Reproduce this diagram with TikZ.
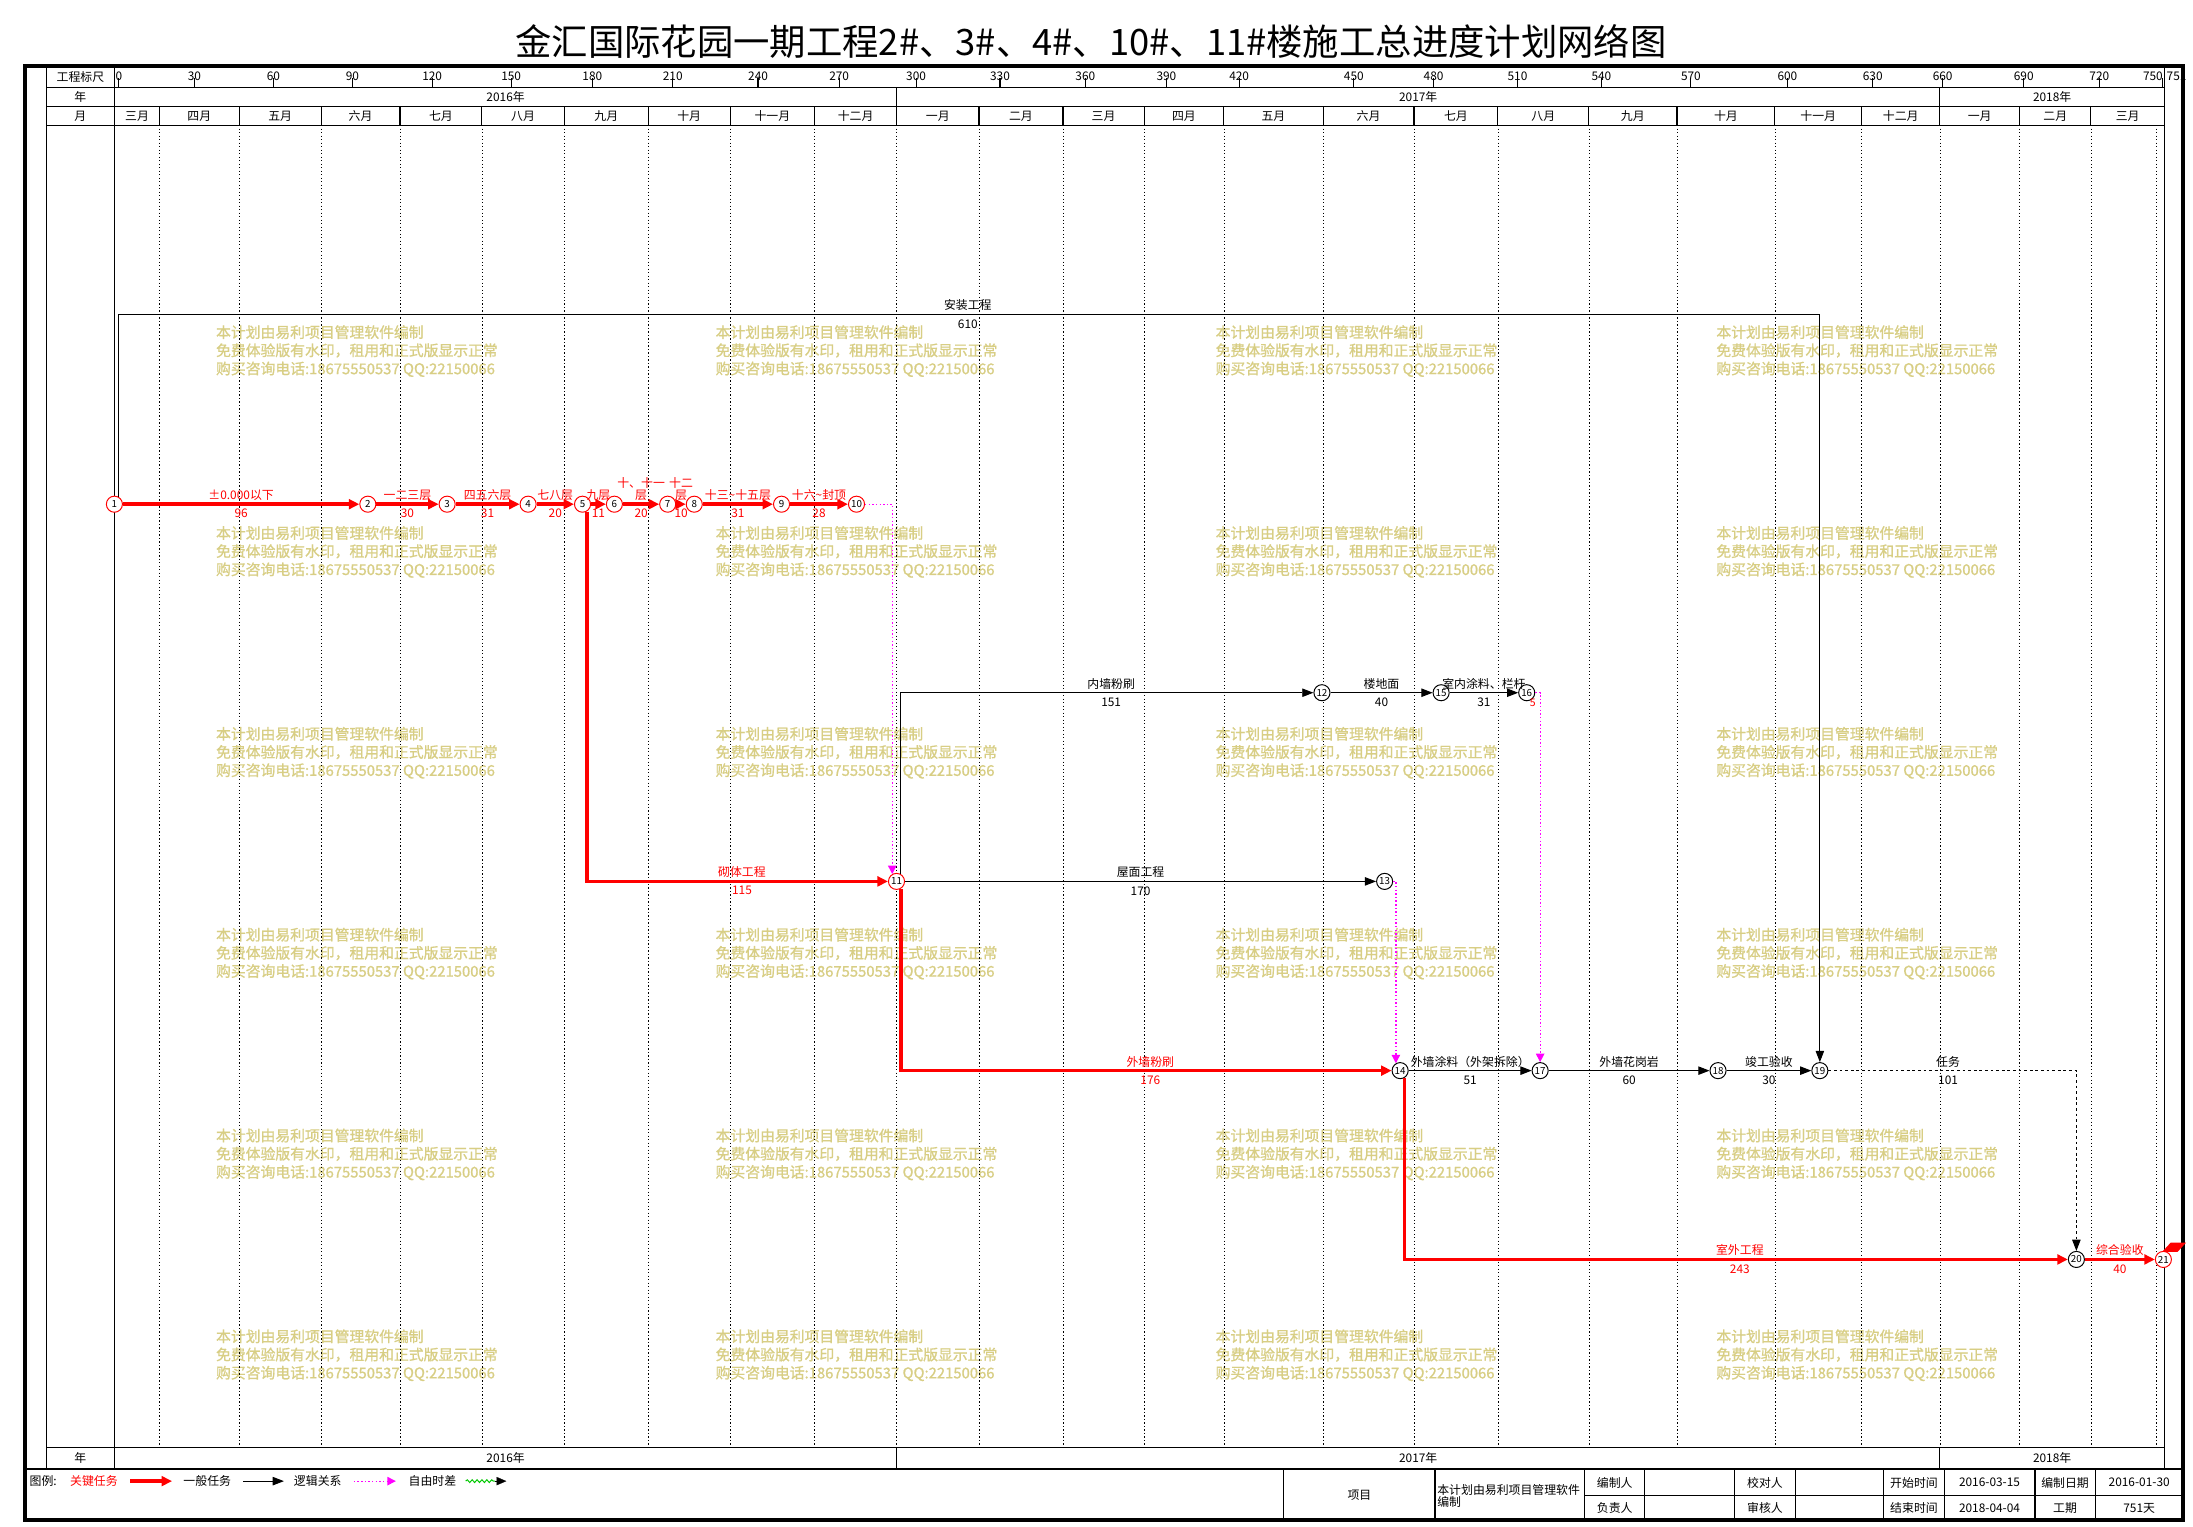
\documentclass[tikz,border=0pt]{standalone}
\usepackage{fontspec}
\setmainfont{Noto Sans CJK SC}
\newfontfamily\wmfont[FakeBold=1]{Noto Sans CJK SC}
\usetikzlibrary{arrows.meta,decorations.pathmorphing,calc}
\definecolor{wm}{RGB}{216,206,132}
\definecolor{mag}{RGB}{255,0,255}
\definecolor{lgreen}{RGB}{0,200,0}
\begin{document}
\begin{tikzpicture}[x=1pt,y=-1pt,
  every node/.style={inner sep=0pt,font=\fontsize{8.5}{10}\selectfont},
  ev/.style={circle,draw=black,line width=0.7pt,fill=white,minimum size=11.5pt,inner sep=0pt,font=\fontsize{7}{8}\selectfont},
  evc/.style={ev,draw=red},
  critline/.style={draw=red,line width=2.6pt,-{Triangle[length=7.5pt,width=7pt]}},
  genline/.style={draw=black,line width=0.7pt,-{Triangle[length=8pt,width=6pt]}},
  ffline/.style={draw=mag,line width=0.9pt,dash pattern=on 1pt off 1.6pt,-{Triangle[length=6pt,width=6pt,fill=mag]}},
  dashline/.style={draw=black,line width=0.7pt,dash pattern=on 2pt off 2pt,-{Triangle[length=8pt,width=6pt]}},
  gridline/.style={line width=0.4pt,dash pattern=on 0.9pt off 1.6pt},
  thin/.style={line width=0.8pt},
  wmk/.style={text=wm,anchor=west,align=left,font=\wmfont\fontsize{10.6}{13}\selectfont},
  rl/.style={text=red},
]
\useasboundingbox (0,0) rectangle (1568,1091.8);
\fill[white] (0,0) rectangle (1568,1091.8);

% title
\node (title) at (780,30) {\fontsize{26}{28}\selectfont 金汇国际花园一期工程2\#、3\#、4\#、10\#、11\#楼施工总进度计划网络图};

% watermarks
\foreach \cx in {154.3,511.5,869,1227}{
  \foreach \ry in {238,381.6,525.2,668.8,812.4,956}{
    \node[wmk] at (\cx,\ry+13) {本计划由易利项目管理软件编制\\免费体验版有水印，租用和正式版显示正常\\购买咨询电话:18675550537 QQ:22150066};
  }
}

% grid lines
\foreach \x in {114,171,229.6,286,344.5,403.5,463.5,522,582.5,641,700,760,818,875,946,1011,1071,1136,1199,1269,1331,1387,1444,1495,1542}
  \draw[gridline] (\x,89.5) -- (\x,1035.2);

% header lines
\draw[thin] (33,47.4) -- (33,1050.3);
\draw[thin] (82,47.4) -- (82,1050.3);
\draw[thin] (1547.5,47.4) -- (1547.5,1050.3);
\foreach \y in {62.4,76,89.5,1035.2} \draw[thin] (33,\y) -- (1547.5,\y);
\draw[thin] (641,62.4) -- (641,76);
\draw[thin] (1387,62.4) -- (1387,76);
\draw[thin] (641,1035.2) -- (641,1050.3);
\draw[thin] (1387,1035.2) -- (1387,1050.3);

\node at (57.5,55) {工程标尺};
\node at (57.5,69.2) {年};
\node at (57.5,82.8) {月};
\node at (57.5,1042.7) {年};
\node at (361.5,69.2) {2016年};
\node at (1014,69.2) {2017年};
\node at (1467.3,69.2) {2018年};
\node at (361.5,1042.7) {2016年};
\node at (1014,1042.7) {2017年};
\node at (1467.3,1042.7) {2018年};

% ruler
\foreach \x/\t in {85/0,139/30,195.5/60,252/90,309/120,365.5/150,423.5/180,481/210,542/240,600/270,655/300,715/330,776/360,834/390,886/420,968/450,1025/480,1085/510,1145/540,1209/570,1278/600,1339/630,1389/660,1447/690,1501/720}{
  \draw[thin] (\x,56) -- (\x,62.4);
  \node at (\x,54.6) {\t};
}
\draw[thin] (1546.4,56) -- (1546.4,62.4);
\node[anchor=east] at (1546.6,54.6) {750};
\node[anchor=west] at (1549,54.6) {751};

% months
\foreach \a/\b/\t in {82/114/三月,114/171/四月,171/229.6/五月,229.6/286/六月,286/344.5/七月,344.5/403.5/八月,403.5/463.5/九月,463.5/522/十月,522/582.5/十一月,582.5/641/十二月,641/700/一月,700/760/二月,760/818/三月,818/875/四月,875/946/五月,946/1011/六月,1011/1071/七月,1071/1136/八月,1136/1199/九月,1199/1269/十月,1269/1331/十一月,1331/1387/十二月,1387/1444/一月,1444/1495/二月,1495/1547.5/三月}{
  \draw[thin] (\b,76) -- (\b,89.5);
  \node at ({(\a+\b)/2},82.8) {\t};
}

% frame
\draw[line width=3pt] (18,47.4) rectangle (1561,1087);
\draw[line width=2pt] (18,1050.3) -- (1561,1050.3);

% legend
\node[anchor=west] at (21,1059) {图例:};
\node[anchor=west,rl] at (50,1059) {关键任务};
\coordinate (la1) at (93,1059); \coordinate (lb1) at (123,1059);
\draw[critline] (la1) -- (lb1);
\node[anchor=west] at (131,1059) {一般任务};
\coordinate (la2) at (174,1059); \coordinate (lb2) at (203,1059);
\draw[genline] (la2) -- (lb2);
\node[anchor=west] at (210,1059) {逻辑关系};
\coordinate (la3) at (253,1059); \coordinate (lb3) at (283,1059);
\draw[ffline] (la3) -- (lb3);
\node[anchor=west] at (292,1059) {自由时差};
\coordinate (la4) at (333,1059); \coordinate (lm4) at (354,1059); \coordinate (lb4) at (362,1059);
\draw[lgreen,line width=0.7pt,decorate,decoration={snake,amplitude=1pt,segment length=3.5pt}] (la4) -- (lm4);
\draw[line width=0.1pt,-{Triangle[length=7pt,width=6pt]}] (lm4) -- (lb4);

% title block
\foreach \x in {918,1026,1133,1176,1240,1284,1347,1390,1455,1498} \draw[thin] (\x,1050.3) -- (\x,1087);
\draw[thin] (1133,1069.5) -- (1561,1069.5);
\node at (972,1069) {项目};
\node[anchor=north west,align=left,font=\fontsize{8.5}{8}\selectfont] at (1027.5,1061.5) {本计划由易利项目管理软件\\编制};
\node at (1154.5,1060) {编制人};
\node at (1154.5,1078.5) {负责人};
\node at (1262,1060) {校对人};
\node at (1262,1078.5) {审核人};
\node at (1368.5,1060) {开始时间};
\node at (1368.5,1078.5) {结束时间};
\node at (1422.5,1060) {2016-03-15};
\node at (1422.5,1078.5) {2018-04-04};
\node at (1476.5,1060) {编制日期};
\node at (1476.5,1078.5) {工期};
\node at (1529.5,1060) {2016-01-30};
\node at (1529.5,1078.5) {751天};

% events
\node[evc] (n1) at (81.8,360.5) {1};
\node[evc] (n2) at (263,360.5) {2};
\node[evc] (n3) at (319.7,360.5) {3};
\node[evc] (n4) at (377.6,360.5) {4};
\node[evc] (n5) at (416.5,360.5) {5};
\node[evc] (n6) at (439.3,360.5) {6};
\node[evc] (n7) at (477.4,360.5) {7};
\node[evc] (n8) at (496.4,360.5) {8};
\node[evc] (n9) at (558.8,360.5) {9};
\node[evc] (n10) at (612.4,360.5) {10};
\node[evc] (n11) at (641,630.2) {11};
\node[ev] (n12) at (945.2,495.3) {12};
\node[ev] (n13) at (990,630.2) {13};
\node[ev] (n14) at (1001.1,765.5) {14};
\node[ev] (n15) at (1030.4,495.3) {15};
\node[ev] (n16) at (1091.6,495.3) {16};
\node[ev] (n17) at (1101.2,765.5) {17};
\node[ev] (n18) at (1228.4,765.5) {18};
\node[ev] (n19) at (1301.2,765.5) {19};
\node[ev] (n20) at (1484.6,900.5) {20};
\node[evc] (n21) at (1546.8,900.5) {21};
\coordinate (top19) at (1301.2,225);

% connectors
\draw[genline] (n1.60) |- (top19) -- (n19);
\draw[critline] (n1) -- (n2);
\draw[critline] (n2) -- (n3);
\draw[critline] (n3) -- (n4);
\draw[critline] (n4) -- (n5);
\draw[critline] (n5) -- (n6);
\draw[critline] (n6) -- (n7);
\draw[critline] (n7) -- (n8);
\draw[critline] (n8) -- (n9);
\draw[critline] (n9) -- (n10);
\draw[critline] (n5.-60) |- (n11);
\draw[critline] (n11.-60) |- (n14);
\draw[critline] (n14.-60) |- (n20);
\draw[critline] (n20) -- (n21);
\draw[genline] (n11.60) |- (n12);
\draw[genline] (n12) -- (n15);
\draw[genline] (n15) -- (n16);
\draw[genline] (n11) -- (n13);
\draw[genline] (n14) -- (n17);
\draw[genline] (n17) -- (n18);
\draw[genline] (n18) -- (n19);
\draw[dashline] (n19) -| (n20);
\draw[ffline] (n10) -| (n11.120);
\draw[ffline] (n13) -| (n14.120);
\draw[ffline] (n16) -| (n17);

% finish marker
\fill[red] (1546,895) -- (1552,888.5) -- (1563,888.5) -- (1557,895) -- cycle;

% labels
\node[rl] at (172.4,354) {±0.000以下};  \node[rl] at (172.4,367.3) {96};
\node[rl] at (291.3,354) {一二三层};    \node[rl] at (291.3,367.3) {30};
\node[rl] at (348.6,354) {四五六层};    \node[rl] at (348.6,367.3) {31};
\node[rl] at (397,354) {七八层};        \node[rl] at (397,367.3) {20};
\node[rl] at (427.9,354) {九层};        \node[rl] at (427.9,367.3) {11};
\node[rl] at (458.4,345.2) {十、十一};  \node[rl] at (458.4,354) {层}; \node[rl] at (458.4,367.3) {20};
\node[rl] at (487,345.2) {十二};        \node[rl] at (487,354) {层};   \node[rl] at (487,367.3) {10};
\node[rl] at (527.6,354) {十三\textasciitilde 十五层}; \node[rl] at (527.6,367.3) {31};
\node[rl] at (585.6,354) {十六\textasciitilde 封顶};   \node[rl] at (585.6,367.3) {28};
\node[rl] at (530.5,623.6) {砌体工程};  \node[rl] at (530.5,636.9) {115};
\node[rl] at (822.5,759) {外墙粉刷};    \node[rl] at (822.5,772.3) {176};
\node[rl] at (1244,894) {室外工程};     \node[rl] at (1244,907.2) {243};
\node[rl] at (1515.7,894) {综合验收};   \node[rl] at (1515.7,907.2) {40};
\node at (692,218.4) {安装工程};        \node at (692,231.7) {610};
\node at (794.5,488.8) {内墙粉刷};      \node at (794.5,502.1) {151};
\node at (987.8,488.8) {楼地面};        \node at (987.8,502.1) {40};
\node at (1061,488.8) {室内涂料、栏杆}; \node at (1061,502.1) {31};
\node[rl,font=\fontsize{7.5}{8}\selectfont] at (1096,502.4) {5};
\node at (815.5,623.6) {屋面工程};      \node at (815.5,636.9) {170};
\node at (1051.2,759) {外墙涂料（外架拆除）}; \node at (1051.2,772.3) {51};
\node at (1164.8,759) {外墙花岗岩};     \node at (1164.8,772.3) {60};
\node at (1264.8,759) {竣工验收};       \node at (1264.8,772.3) {30};
\node at (1392.9,759) {任务};           \node at (1392.9,772.3) {101};
\end{tikzpicture}
\end{document}
